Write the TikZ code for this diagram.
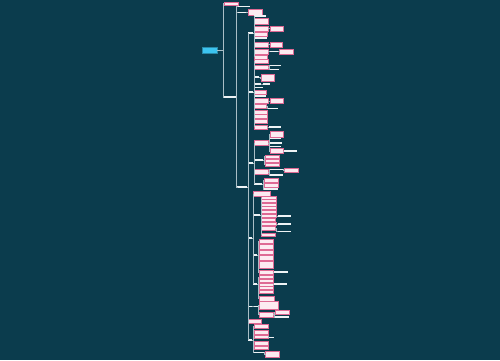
\documentclass[tikz,border=0pt]{standalone}
\usepackage{tikz}
\usetikzlibrary{arrows.meta,positioning,calc}
\definecolor{bgteal}{HTML}{0B3C4D}
\definecolor{pinkfill}{HTML}{FCEBF1}
\definecolor{pinkedge}{HTML}{DE6A94}
\definecolor{rootcyan}{HTML}{3CC4F0}
\definecolor{wltext}{HTML}{EEF3F5}
\definecolor{linkgray}{HTML}{A9BEC6}
\begin{document}
\begin{tikzpicture}[x=1pt,y=-1pt,
rootbox/.style={draw=rootcyan!70!black,fill=rootcyan,line width=.3pt,inner sep=0pt,anchor=west,minimum width=15pt,minimum height=6pt},
pb/.style={draw=pinkedge,fill=pinkfill,line width=.25pt,inner sep=0pt,anchor=west},
wl/.style={fill=wltext,inner sep=0pt,anchor=west,minimum height=1.3pt},
link/.style={draw=linkgray,line width=.35pt}]
\fill[bgteal] (0,0) rectangle (500,360);
\useasboundingbox (0,0) rectangle (500,360);
% root
\node[rootbox] (R) at (202,50) {};
% boxed topics: name/x/y/width/height
\foreach \n/\x/\y/\w/\h in {A/224/3.5/14/3, C1/247.5/12/14/6,
  e2/254/21.5/14/6, e3/254/28.5/14/5, e3a/269.5/28.5/13/5, e4/254/34/13/4, e6/254/44.5/14/5,
  e6a/269.5/44.5/12/5, e7/254/51.5/14/5, e7b/279/51.5/14/5, e8/254/57/13/4,
  f1/254/61/14/4, f2/254/67/14/4, f3a/260.5/78/13/7, f6/254/92.5/12/4, f8/254/101/14/5,
  f8a/269.5/101/13/5, f9/254/106/12/4, f10/254/112/13/4, f11/254/116.5/13/4,
  f12/254/121.5/13/4, f13/254/127/13/4,
  i1/254/143/14/5, i1a/269.5/134.5/13/6, i1e/269.5/151/13/5, i2a/264.5/156.5/14/3.5,
  i2b/264.5/160.5/14/3.5, i2c/264.5/164.5/14/3.5, i3/254/172/14/5, i3a1/284/170/14/4,
  i4a/263.5/180/14/4, i4b/263.5/185/14/4,
  l1/253/193.5/17/4.5, k1/261/197.5/15/3, k2/261/201/15/3, k3/261/204.5/15/3,
  k4/261/208/15/3, k5/261/212/15/3, k6/261/216/15/3, k7/261/220/14/3, k8/261/224/15/3,
  k9/261/228.5/14/4, k10/261/235/14/3,
  m1/258.5/241.5/14/4, m2/258.5/246.5/14/5, m3/258.5/252/14/3.5, m4/258.5/257.5/14/5,
  m5/258.5/265/14/7, m6/258.5/272/14/4,
  n1/258.5/277/14/3, n2/258.5/280.5/14/3, n3/258.5/284.5/14/3, n4/258.5/288/14/3,
  n5/258.5/291.5/14/3, n6/258.5/298.5/15/5,
  o1a/259/305.5/19/8, o1b/259/314.5/14/5, o1b1/274.5/312/14/3.5, P/248/321.5/13/4,
  q1/253.5/326.5/14/4, q2/253.5/332/14/4, q3/253.5/336.5/14/3.5, q4/253.5/343.5/14/4,
  q5/253.5/347.5/14/3.5, q6a/265/354.5/14/6}
  \node[pb,minimum width=\w pt,minimum height=\h pt] (\n) at (\x,\y) {};
% underlined topics: name/x/y/width
\foreach \n/\x/\y/\w in {G/224/97/11.5, B/237/6.5/13, C/237/12.5/9, H/237/187/10,
  E/248/33/5, F/248/92/5, I/248/163/5, L/248/238/4, O/248/306.5/4, Q/248/340/4,
  e1/254/16/12, e5/254/38/13, e7a/269.5/51.5/8,
  f2a/269.5/65.5/11, f2b/269.5/69.5/9, f3/254/77/5, f4/254/84/7, f4a/262.5/84/7,
  f5/254/87.5/9, f7/254/96/12, f9a/267.5/108.5/10, f13a/268.5/127/12,
  i1b/269.5/138.5/11, i1c/269.5/143/12, i1d/269.5/146.5/11, i1e1/284/151/13,
  i2/254/160/9, i3a/269.5/169.5/13, i3b/269.5/175/13, i4/254/184/8, i4c/263.5/189/14,
  K/253/215/7, k6a/277.5/216/13, k8a/277.5/224/13, k9a/277.5/231.5/13,
  M/253/255/4, m6a/274/272/14, N/253/284/4, n3a/274/284/13,
  o1/253.5/306.5/4, o1b2/274.5/317/14, q3a/269/337.5/5, q6/253.5/352.5/10}
  \node[wl,minimum width=\w pt] (\n) at (\x,\y) {};
% connectors
\foreach \c in {A,G}
  \draw[link] (R.east) -- ++(6,0) |- (\c.west);
\foreach \p/\cs in {G/{B,C,H}, C/{C1}, H/{E,F,I,L,O,P,Q},
  E/{e1,e2,e3,e4,e5,e6,e7,e8}, e3/{e3a}, e6/{e6a}, e7/{e7a}, e7a/{e7b},
  F/{f1,f2,f3,f4,f5,f6,f7,f8,f9,f10,f11,f12,f13}, f2/{f2a,f2b}, f3/{f3a}, f4/{f4a},
  f8/{f8a}, f9/{f9a}, f13/{f13a},
  I/{i1,i2,i3,i4}, i1/{i1a,i1b,i1c,i1d,i1e}, i1e/{i1e1}, i2/{i2a,i2b,i2c},
  i3/{i3a,i3b}, i3a/{i3a1}, i4/{i4a,i4b,i4c},
  L/{l1,K,M,N}, K/{k1,k2,k3,k4,k5,k6,k7,k8,k9,k10}, k6/{k6a}, k8/{k8a}, k9/{k9a},
  M/{m1,m2,m3,m4,m5,m6}, m6/{m6a}, N/{n1,n2,n3,n4,n5,n6}, n3/{n3a},
  O/{o1}, o1/{o1a,o1b}, o1b/{o1b1,o1b2},
  Q/{q1,q2,q3,q4,q5,q6}, q3/{q3a}, q6/{q6a}}
  \foreach \c in \cs
    \draw[link] (\p.east) -- ++(.6,0) |- (\c.west);
\end{tikzpicture}
\end{document}
